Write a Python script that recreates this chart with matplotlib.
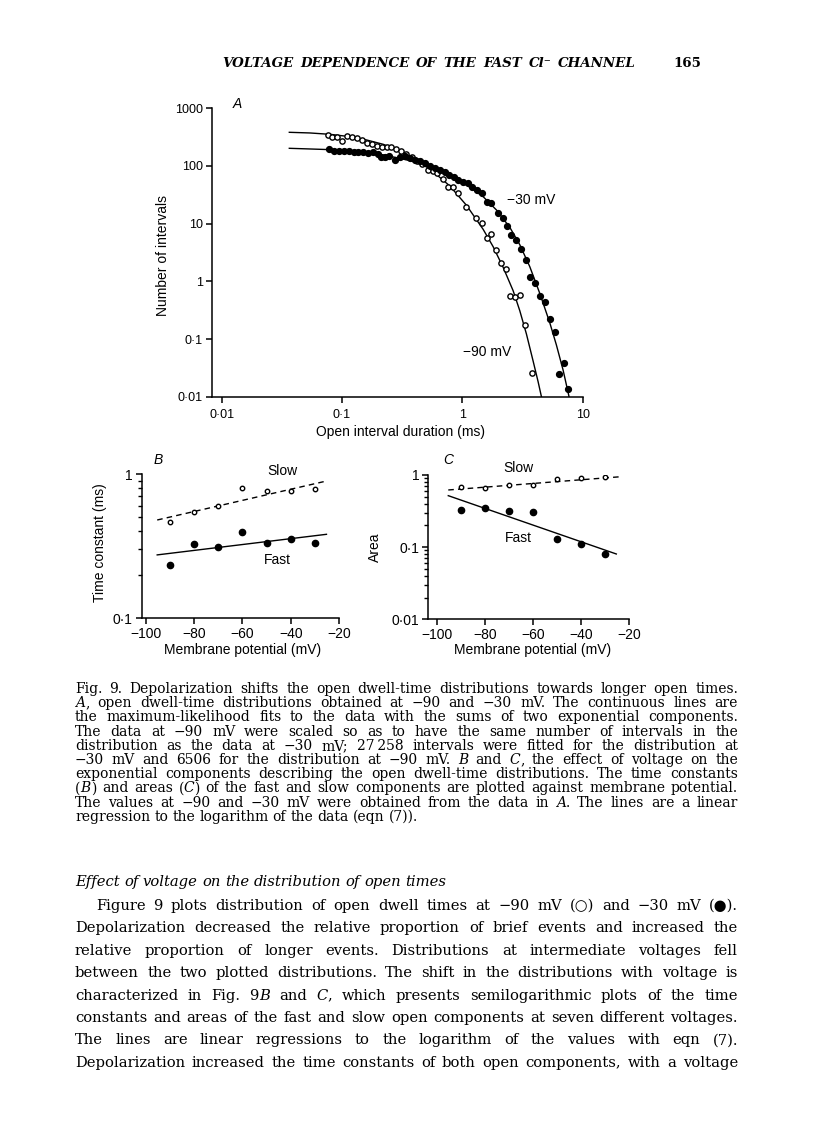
import matplotlib
matplotlib.use("Agg")
import matplotlib.pyplot as plt
from matplotlib.ticker import FixedLocator, FixedFormatter, NullLocator, NullFormatter

W, H = 816, 1141
SANS = ["Liberation Sans", "DejaVu Sans"]
SERIF = ["DejaVu Serif", "DejaVu Sans"]

# ---- panel A: open dwell-time distributions (number of intervals vs duration, ms)
t_90 = [0.0759, 0.0830, 0.0901, 0.0992, 0.1091, 0.1201, 0.1321, 0.1454, 0.160, 0.176,
        0.1936, 0.2131, 0.2344, 0.2531, 0.2803, 0.3064, 0.3393, 0.378, 0.416, 0.4578,
        0.520, 0.572, 0.6177, 0.6928, 0.762, 0.8386, 0.9228, 1.082, 1.31, 1.46,
        1.607, 1.746, 1.92, 2.113, 2.326, 2.477, 2.727, 3.0, 3.30, 3.822]
n_90 = [344.9, 314, 314, 271.4, 335.7, 322.6, 302, 282.4, 254, 240.7,
        222.2, 216.4, 210.7, 210.7, 194.5, 182, 161.5, 141.4, 123.8, 108.3,
        85.3, 83, 74.6, 59.5, 43.8, 43.8, 33.6, 19.2, 12.7, 10.4,
        5.57, 6.62, 3.49, 2.11, 1.61, 0.557, 0.528, 0.579, 0.175, 0.0254]

t_30 = [0.0778, 0.0862, 0.0948, 0.1043, 0.1141, 0.1256, 0.1364, 0.150, 0.1651, 0.1794,
        0.1974, 0.2104, 0.2271, 0.2467, 0.2749, 0.3025, 0.3329, 0.3663, 0.4030, 0.4434,
        0.4879, 0.5369, 0.5907, 0.650, 0.7151, 0.7770, 0.8494, 0.9228, 1.015, 1.117,
        1.214, 1.327, 1.460, 1.607, 1.746, 1.983, 2.182, 2.355, 2.559, 2.815,
        3.059, 3.365, 3.679, 4.048, 4.455, 4.839, 5.325, 5.859, 6.366, 6.960, 7.560]
n_30 = [194.5, 184.5, 184.5, 182, 179.6, 177.3, 177, 175, 170.4, 172.7,
        161.5, 145.2, 145, 149.1, 127, 141.4, 149, 135.8, 127, 122.1,
        111.2, 100, 91.1, 85.3, 79.7, 69.8, 63.6, 57.2, 53.5, 50.0,
        42.7, 38.3, 33.6, 24.1, 23.1, 15.1, 12.4, 9.23, 6.36, 5.21,
        3.59, 2.34, 1.205, 0.948, 0.557, 0.436, 0.219, 0.134, 0.0244, 0.0379, 0.0136]

# fitted curves
fit90_t = [0.03647, 0.0541, 0.0793, 0.1163, 0.160, 0.220, 0.3025, 0.416, 0.572, 0.787,
           1.082, 1.488, 1.802, 2.182, 2.641, 3.0, 3.408, 3.872, 4.26, 4.54]
fit90_n = [383.6, 373.6, 354, 322.6, 282.4, 237.5, 184.5, 127, 79.7, 45,
           20.8, 7.98, 3.99, 1.75, 0.689, 0.310, 0.122, 0.0415, 0.0182, 0.01]
fit30_t = [0.03647, 0.0541, 0.0793, 0.1163, 0.160, 0.220, 0.3025, 0.416, 0.572, 0.787,
           1.082, 1.488, 1.920, 2.478, 3.0, 3.633, 4.398, 5.325, 6.047, 6.871, 7.70]
fit30_n = [202.5, 197.2, 192.0, 182.0, 170.3, 155.2, 135.8, 115.8, 93.6, 68.9,
           46.8, 29.4, 17.26, 8.64, 4.32, 1.796, 0.619, 0.192, 0.0787, 0.029, 0.01]

# ---- panels B and C: time constants and areas vs membrane potential
vm = [-90, -80, -70, -60, -50, -40, -30]
tau_slow = [0.467, 0.548, 0.600, 0.804, 0.766, 0.766, 0.783]
tau_fast = [0.234, 0.326, 0.314, 0.394, 0.334, 0.353, 0.334]
area_slow = [0.689, 0.653, 0.727, 0.727, 0.871, 0.899, 0.928]
area_fast = [0.327, 0.353, 0.317, 0.304, 0.128, 0.111, 0.080]

reg_b_v = [-95.2, -25.3]
tau_slow_reg = [0.480, 0.894]
tau_fast_reg = [0.275, 0.382]
reg_c_slow_v = [-95.2, -23.3]
area_slow_reg = [0.620, 0.948]
reg_c_fast_v = [-95.2, -25.4]
area_fast_reg = [0.517, 0.0804]

v_ticks = [-100, -80, -60, -40, -20]
v_labels = ["\u2212100", "\u221280", "\u221260", "\u221240", "\u221220"]

header = "VOLTAGE DEPENDENCE OF THE FAST Cl\u207b CHANNEL"
caption = [
    "Fig. 9. Depolarization shifts the open dwell-time distributions towards longer open times.",
    "*A*, open dwell-time distributions obtained at \u221290 and \u221230 mV. The continuous lines are",
    "the maximum-likelihood fits to the data with the sums of two exponential components.",
    "The data at \u221290 mV were scaled so as to have the same number of intervals in the",
    "distribution as the data at \u221230 mV; 27\u2009258 intervals were fitted for the distribution at",
    "\u221230 mV and 6506 for the distribution at \u221290 mV. *B* and *C*, the effect of voltage on the",
    "exponential components describing the open dwell-time distributions. The time constants",
    "(*B*) and areas (*C*) of the fast and slow components are plotted against membrane potential.",
    "The values at \u221290 and \u221230 mV were obtained from the data in *A*. The lines are a linear",
    "regression to the logarithm of the data (eqn (7)).",
]
heading = "Effect of voltage on the distribution of open times"
body = [
    "Figure 9 plots distribution of open dwell times at \u221290 mV (\u25cb) and \u221230 mV (\u25cf).",
    "Depolarization decreased the relative proportion of brief events and increased the",
    "relative proportion of longer events. Distributions at intermediate voltages fell",
    "between the two plotted distributions. The shift in the distributions with voltage is",
    "characterized in Fig. 9*B* and *C*, which presents semilogarithmic plots of the time",
    "constants and areas of the fast and slow open components at seven different voltages.",
    "The lines are linear regressions to the logarithm of the values with eqn (7).",
    "Depolarization increased the time constants of both open components, with a voltage",
]

fig = plt.figure(figsize=(W / 100, H / 100), dpi=100)
fig.patch.set_facecolor("white")
renderer = fig.canvas.get_renderer()


def add_ax(l, t, r, b):
    return fig.add_axes([l / W, 1 - b / H, (r - l) / W, (b - t) / H])


def ptext(x, y, s, **kw):
    kw.setdefault("ha", "center")
    kw.setdefault("va", "center")
    kw.setdefault("family", SANS)
    return fig.text(x / W, 1 - y / H, s, **kw)


def make_words(s, y, size, italic, weight):
    groups = []
    for w in s.split(" "):
        segs = []
        for i, piece in enumerate(w.split("*")):
            if not piece:
                continue
            it = (i % 2 == 1) != italic
            t = fig.text(0, 1 - y / H, piece, fontsize=size, family=SERIF,
                         style="italic" if it else "normal", weight=weight,
                         ha="left", va="baseline")
            segs.append(t)
        groups.append(segs)
    widths = [[t.get_window_extent(renderer).width for t in g] for g in groups]
    return groups, widths


def natural_width(s, size, italic=False, weight="normal"):
    groups, widths = make_words(s, 0, size, italic, weight)
    for g in groups:
        for t in g:
            t.remove()
    return sum(sum(ws) for ws in widths) + (len(groups) - 1) * 0.3 * size * 100 / 72


def fit_size(lines, width, size0=10, italic=False, weight="normal"):
    widest = max(natural_width(s, size0, italic, weight) for s in lines)
    return size0 * width / widest


def text_line(s, y, x0, x1, size, justify=True, italic=False, weight="normal"):
    groups, widths = make_words(s, y, size, italic, weight)
    total = sum(sum(ws) for ws in widths)
    if justify and len(groups) > 1:
        gap = (x1 - x0 - total) / (len(groups) - 1)
    else:
        gap = 0.3 * size * 100 / 72
    x = x0
    for g, ws in zip(groups, widths):
        for t, w in zip(g, ws):
            t.set_x(x / W)
            x += w
        x += gap


def style_axes(ax, size):
    for side in ("top", "right"):
        ax.spines[side].set_visible(False)
    for side in ("left", "bottom"):
        ax.spines[side].set_linewidth(1.1)
    ax.tick_params(which="major", direction="out", length=4, width=1.1, labelsize=size, pad=2.5)
    ax.tick_params(which="minor", direction="out", length=3, width=1.0)
    for lab in ax.get_xticklabels() + ax.get_yticklabels():
        lab.set_family(SANS)


# ---------------- panel A
axA = add_ax(211.7, 108.3, 582.7, 396.7)
axA.set_xscale("log")
axA.set_yscale("log")
axA.plot(fit90_t, fit90_n, color="black", lw=1.0)
axA.plot(fit30_t, fit30_n, color="black", lw=1.0)
axA.plot(t_90, n_90, "o", mfc="white", mec="black", mew=1.0, ms=3.8, clip_on=False)
axA.plot(t_30, n_30, "o", mfc="black", mec="black", ms=4.2, clip_on=False)
axA.set_xlim(10 ** -2.083, 10)
axA.set_ylim(0.01, 1000)
axA.xaxis.set_major_locator(FixedLocator([0.01, 0.1, 1, 10]))
axA.xaxis.set_major_formatter(FixedFormatter(["0\u00b701", "0\u00b71", "1", "10"]))
axA.yaxis.set_major_locator(FixedLocator([0.01, 0.1, 1, 10, 100, 1000]))
axA.yaxis.set_major_formatter(FixedFormatter(["0\u00b701", "0\u00b71", "1", "10", "100", "1000"]))
for a in (axA.xaxis, axA.yaxis):
    a.set_minor_locator(NullLocator())
    a.set_minor_formatter(NullFormatter())
style_axes(axA, 9)
axA.tick_params(axis="x", pad=5)

ptext(237, 104, "A", fontsize=10, style="italic")
ptext(531, 200, "\u221230 mV", fontsize=10)
ptext(487, 352, "\u221290 mV", fontsize=10)
ptext(163, 255, "Number of intervals", fontsize=10, rotation=90)
ptext(400, 432, "Open interval duration (ms)", fontsize=10)

# ---------------- panel B
axB = add_ax(141.7, 474, 339.3, 618.3)
axB.set_yscale("log")
axB.plot(reg_b_v, tau_slow_reg, color="black", lw=1.0, ls=(0, (4, 3)))
axB.plot(reg_b_v, tau_fast_reg, color="black", lw=1.0)
axB.plot(vm, tau_slow, "o", mfc="white", mec="black", mew=1.0, ms=3.2)
axB.plot(vm, tau_fast, "o", mfc="black", mec="black", ms=4.5)
axB.set_xlim(-101.6, -20)
axB.set_ylim(0.1, 1)
axB.xaxis.set_major_locator(FixedLocator(v_ticks))
axB.xaxis.set_major_formatter(FixedFormatter(v_labels))
axB.yaxis.set_major_locator(FixedLocator([0.1, 1]))
axB.yaxis.set_major_formatter(FixedFormatter(["0\u00b71", "1"]))
axB.yaxis.set_minor_locator(FixedLocator([0.2, 0.3, 0.4, 0.5, 0.6, 0.7, 0.8, 0.9]))
axB.yaxis.set_minor_formatter(NullFormatter())
style_axes(axB, 10)

ptext(158, 460, "B", fontsize=10, style="italic")
ptext(282, 471, "Slow", fontsize=10)
ptext(277, 560, "Fast", fontsize=10)
ptext(100, 543, "Time constant (ms)", fontsize=10, rotation=90)
ptext(243, 650, "Membrane potential (mV)", fontsize=10)

# ---------------- panel C
axC = add_ax(428.3, 475, 629.3, 619.3)
axC.set_yscale("log")
axC.plot(reg_c_slow_v, area_slow_reg, color="black", lw=1.0, ls=(0, (4, 3)))
axC.plot(reg_c_fast_v, area_fast_reg, color="black", lw=1.0)
axC.plot(vm, area_slow, "o", mfc="white", mec="black", mew=1.0, ms=3.2)
axC.plot(vm, area_fast, "o", mfc="black", mec="black", ms=4.5)
axC.set_xlim(-103.5, -20)
axC.set_ylim(0.01, 1)
axC.xaxis.set_major_locator(FixedLocator(v_ticks))
axC.xaxis.set_major_formatter(FixedFormatter(v_labels))
axC.yaxis.set_major_locator(FixedLocator([0.01, 0.1, 1]))
axC.yaxis.set_major_formatter(FixedFormatter(["0\u00b701", "0\u00b71", "1"]))
minors = [m * d for d in (0.01, 0.1) for m in range(2, 10)]
axC.yaxis.set_minor_locator(FixedLocator(minors))
axC.yaxis.set_minor_formatter(NullFormatter())
style_axes(axC, 10)

ptext(448, 460, "C", fontsize=10, style="italic")
ptext(518, 468, "Slow", fontsize=10)
ptext(518, 538, "Fast", fontsize=10)
ptext(375, 547, "Area", fontsize=10, rotation=90)
ptext(533, 650, "Membrane potential (mV)", fontsize=10)

# ---------------- page text
hsize = fit_size([header], 414 * 0.96, italic=True, weight="bold")
text_line(header, 67, 222, 636, hsize, italic=True, weight="bold")
fig.text(673 / W, 1 - 67 / H, "165", fontsize=hsize, family=SERIF, weight="bold",
         ha="left", va="baseline")

csize = fit_size(caption[:-1], 663 * 0.97)
for i, line in enumerate(caption):
    text_line(line, 693 + i * 14.2, 75, 738, csize, justify=(i < len(caption) - 1))

bsize = fit_size(body[1:], 663 * 0.97)
text_line(heading, 886, 75, 455, bsize, justify=False, italic=True)
for i, line in enumerate(body):
    x0 = 96 if i == 0 else 75
    text_line(line, 910 + i * 22.4, x0, 738, bsize)

fig.savefig("out.png", dpi=100, facecolor="white")
